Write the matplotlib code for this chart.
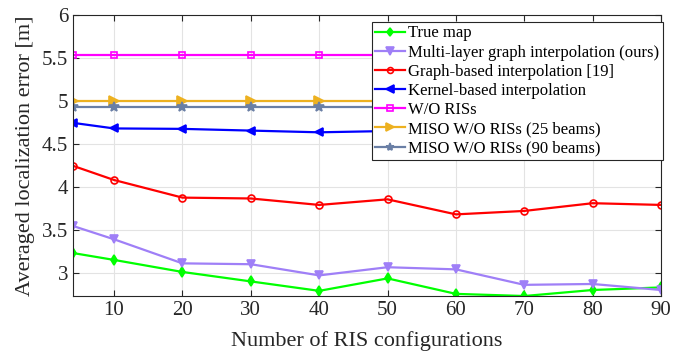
import matplotlib
matplotlib.use("Agg")
import matplotlib.pyplot as plt

plt.rcParams['font.family'] = ['Liberation Serif', 'DejaVu Serif']
plt.rcParams['mathtext.fontset'] = 'stix'

x = [4, 10, 20, 30, 40, 50, 60, 70, 80, 90]
true_map = [3.23, 3.15, 3.01, 2.90, 2.79, 2.935, 2.755, 2.73, 2.80, 2.83]
multi_layer = [3.545, 3.39, 3.11, 3.10, 2.97, 3.065, 3.04, 2.86, 2.87, 2.80]
graph_based = [4.245, 4.08, 3.875, 3.865, 3.79, 3.855, 3.68, 3.72, 3.81, 3.79]
kernel_based = [4.745, 4.68, 4.675, 4.655, 4.635, 4.65, 4.64, 4.635, 4.63, 4.625]
wo_ris = [5.535] * 10
miso_25 = [5.005] * 10
miso_90 = [4.93] * 10

labels = ["True map", "Multi-layer graph interpolation (ours)",
          "Graph-based interpolation [19]", "Kernel-based interpolation",
          "W/O RISs", "MISO W/O RISs (25 beams)", "MISO W/O RISs (90 beams)"]
series = [true_map, multi_layer, graph_based, kernel_based, wo_ris, miso_25, miso_90]
colors = ["#00ff00", "#9f7ff7", "#ff0000", "#0000ff", "#ff00ff", "#edb120", "#6a7fa5"]
markers = ["d", "v", "o", "<", "s", ">", "*"]
msizes = [5, 6, 5, 6, 5, 7, 7]
mfcs = ["#00ff00", "#9f7ff7", "none", "#0000ff", "none", "#edb120", "#6a7fa5"]

fig = plt.figure(figsize=(6.78, 3.54), dpi=100)
ax = fig.add_axes([0.1077, 0.1638, 0.8673, 0.7938])

for ys, lab, c, m, ms, mfc in zip(series, labels, colors, markers, msizes, mfcs):
    ax.plot(x, ys, color=c, marker=m, markersize=ms, markerfacecolor=mfc,
            markeredgecolor=c, markeredgewidth=1.2, linewidth=1.6, label=lab)

ax.set_xlim(4, 90)
ax.set_ylim(2.73, 6)
ax.set_xticks([10, 20, 30, 40, 50, 60, 70, 80, 90])
ax.set_yticks([3, 3.5, 4, 4.5, 5, 5.5, 6])
ax.set_yticklabels(["3", "3.5", "4", "4.5", "5", "5.5", "6"])
ax.grid(True, color="#e3e3e3", linewidth=0.8)
ax.set_axisbelow(True)
ax.tick_params(direction="in", top=True, right=True, labelsize=15,
               colors="#262626", length=4, width=0.8)
for sp in ax.spines.values():
    sp.set_color("#262626")
    sp.set_linewidth(0.8)
ax.set_xlabel("Number of RIS configurations", fontsize=16, color="#262626", labelpad=8)
ax.set_ylabel("Averaged localization error [m]", fontsize=16, color="#262626", labelpad=5)

leg = ax.legend(loc="upper right", bbox_to_anchor=(1.003, 0.975), fontsize=12,
                frameon=True, fancybox=False, edgecolor="#262626", framealpha=1,
                handlelength=1.8, handletextpad=0.2, labelspacing=0.19,
                borderpad=0.2, borderaxespad=0.0, markerscale=0.85)
leg.get_frame().set_linewidth(0.8)

fig.savefig("out.png", dpi=100)
